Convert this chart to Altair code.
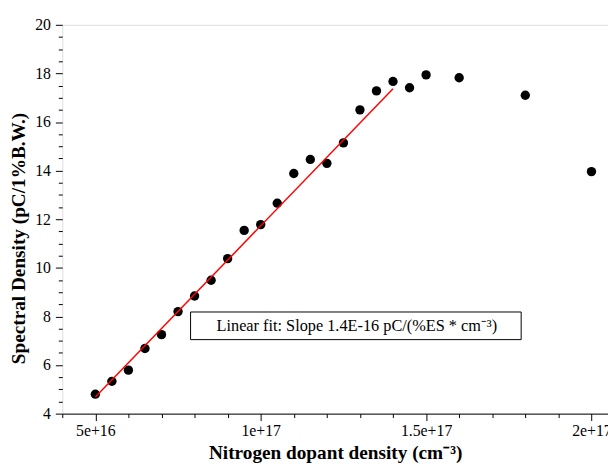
import altair as alt
import pandas as pd

# Data
density = [5e16, 5.5e16, 6e16, 6.5e16, 7e16, 7.5e16, 8e16, 8.5e16, 9e16, 9.5e16,
           1e17, 1.05e17, 1.1e17, 1.15e17, 1.2e17, 1.25e17, 1.3e17, 1.35e17, 1.4e17,
           1.45e17, 1.5e17, 1.6e17, 1.8e17, 2e17]
spectral = [4.80, 5.33, 5.79, 6.68, 7.25, 8.20, 8.84, 9.49, 10.38, 11.54,
            11.78, 12.66, 13.88, 14.46, 14.30, 15.14, 16.50, 17.28, 17.67,
            17.41, 17.94, 17.82, 17.10, 13.96]
# Linear fit line as drawn in the reference (end points)
fit_density = [5e16, 1.4e17]
fit_spectral = [4.68, 17.37]
fit_label = ["Linear fit: Slope 1.4E-16 pC/(%ES * cm\u207b\u00b3)"]

x_ticks = [4e16, 5e16, 6e16, 7e16, 8e16, 9e16, 1e17, 1.1e17, 1.2e17, 1.3e17, 1.4e17,
           1.5e17, 1.6e17, 1.7e17, 1.8e17, 1.9e17, 2e17]
y_ticks = [4, 4.5, 5, 5.5, 6, 6.5, 7, 7.5, 8, 8.5, 9, 9.5, 10, 10.5, 11, 11.5, 12,
           12.5, 13, 13.5, 14, 14.5, 15, 15.5, 16, 16.5, 17, 17.5, 18, 18.5, 19, 19.5, 20]

FONT = "Liberation Serif"
df = pd.DataFrame({"density": density, "spectral": spectral})
fit_df = pd.DataFrame({"density": fit_density, "spectral": fit_spectral})

x_major = "round(datum.value / 10000000000000000) % 5 === 0"
y_major = "round(datum.value * 2) % 4 === 0"

x_axis = alt.Axis(
    values=x_ticks, format="~e",
    labelExpr=f"({x_major}) ? datum.label : ''",
    tickSize={"condition": {"test": x_major, "value": 7}, "value": 4},
    labelOverlap=False, labelFlush=False, grid=False,
    domainColor="black", tickColor="black", labelColor="black", titleColor="black",
    labelFont=FONT, labelFontSize=16, labelPadding=2,
    titleFont=FONT, titleFontSize=19.5, titleFontWeight="bold", titlePadding=5,
)
y_axis = alt.Axis(
    values=y_ticks, format="~g",
    labelExpr=f"({y_major}) ? datum.label : ''",
    tickSize={"condition": {"test": y_major, "value": 7}, "value": 4},
    labelOverlap=False, labelFlush=False, grid=False, domain=False,
    tickColor="black", labelColor="black", titleColor="black",
    labelFont=FONT, labelFontSize=16, labelPadding=5,
    titleFont=FONT, titleFontSize=19.5, titleFontWeight="bold",
    titleX=-44, titleY=216, titleBaseline="middle", titleAngle=270,
)

x_scale = alt.Scale(domain=[4e16, 2.05e17], nice=False, zero=False)
y_scale = alt.Scale(domain=[4, 20], nice=False, zero=False)
x_title = "Nitrogen dopant density (cm\u207b\u00b3)"
y_title = "Spectral Density (pC/1%B.W.)"

x_enc = alt.X("density:Q", scale=x_scale, axis=x_axis, title=x_title)
y_enc = alt.Y("spectral:Q", scale=y_scale, axis=y_axis, title=y_title)

points = alt.Chart(df).mark_circle(size=90, color="black", opacity=1).encode(x=x_enc, y=y_enc)

fit = alt.Chart(fit_df).mark_line(color="#ff0000", strokeWidth=1.5).encode(x=x_enc, y=y_enc)

label_df = pd.DataFrame({"label": fit_label})
box = alt.Chart(label_df).mark_rect(fill="white", stroke="black", strokeWidth=1).encode(
    x=alt.value(130), x2=alt.value(465), y=alt.value(291), y2=alt.value(319)
)
text = alt.Chart(label_df).mark_text(font=FONT, fontSize=16.5, color="black").encode(
    x=alt.value(298.5), y=alt.value(305), text="label:N"
)

chart = (
    alt.layer(points, fit, box, text)
    .properties(width=553, height=394, autosize=alt.AutoSizeParams(type="none"),
                padding={"left": 55, "top": 14, "right": 0, "bottom": 48})
    .configure_view(stroke="transparent")
    .configure(background="white")
)

chart.save("out.html", embed_options={"renderer": "svg", "actions": False})
